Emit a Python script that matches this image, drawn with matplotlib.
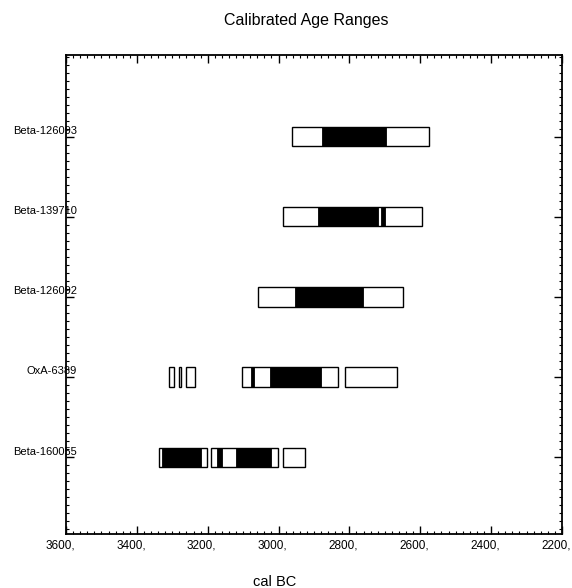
import matplotlib
matplotlib.use("Agg")
import matplotlib.pyplot as plt
import matplotlib.transforms as mtransforms
from matplotlib.ticker import MultipleLocator, FuncFormatter

plt.rcParams['font.family'] = ['Liberation Sans', 'DejaVu Sans']

samples = ['Beta-126093', 'Beta-139710', 'Beta-126092', 'OxA-6389', 'Beta-160055']
rows = [5, 4, 3, 2, 1]

# 95% ranges (open boxes), cal BC
range95 = [
    [(2963, 2576)],
    [(2987, 2594)],
    [(3057, 2648)],
    [(3308, 3296), (3281, 3274), (3262, 3236), (3103, 2833), (2813, 2667)],
    [(3338, 3202), (3192, 3002), (2988, 2925)],
]
# 68% ranges (filled black)
range68 = [
    [(2878, 2698)],
    [(2889, 2719), (2710, 2700)],
    [(2953, 2762)],
    [(3077, 3068), (3023, 2880)],
    [(3328, 3220), (3173, 3161), (3119, 3021)],
]

fig = plt.figure(figsize=(5.72, 5.88), dpi=100)
ax = fig.add_axes([0.1154, 0.0918, 0.867, 0.8147])

h = 0.24
for y, r95, r68 in zip(rows, range95, range68):
    for a, b in r95:
        ax.barh(y, a - b, left=b, height=h, color='white', edgecolor='black', linewidth=1.0, zorder=2)
    for a, b in r68:
        ax.barh(y, a - b, left=b, height=h, color='black', edgecolor='black', linewidth=0.6, zorder=3)

ax.set_xlim(3600, 2200)
ax.set_ylim(0.04, 6.02)

ax.xaxis.set_major_locator(MultipleLocator(200))
ax.xaxis.set_minor_locator(MultipleLocator(20))
ax.xaxis.set_major_formatter(FuncFormatter(lambda v, p: f"{int(v)},"))
ax.set_yticks(rows)
ax.set_yticklabels([])
ax.yaxis.set_minor_locator(MultipleLocator(0.1))

ax.tick_params(axis='both', which='major', direction='in', length=6, width=1,
               top=True, right=True, labelsize=8.5, pad=4)
ax.tick_params(axis='both', which='minor', direction='in', length=2.5, width=0.8,
               top=True, right=True)
for s in ax.spines.values():
    s.set_linewidth(1.3)

# tick labels sit a little left of their ticks in the original
shift = mtransforms.ScaledTranslation(-6 / 100, 0, fig.dpi_scale_trans)
for lbl in ax.get_xticklabels():
    lbl.set_transform(lbl.get_transform() + shift)

for y, name in zip(rows, samples):
    ax.text(0.022, y + 0.07, name, transform=ax.get_yaxis_transform(),
            ha='right', va='center', fontsize=8)

fig.text(0.535, 0.965, 'Calibrated Age Ranges', ha='center', va='center', fontsize=11.5)
fig.text(0.48, 0.01, 'cal BC', ha='center', va='center', fontsize=10.5)

fig.savefig('out.png', dpi=100)
